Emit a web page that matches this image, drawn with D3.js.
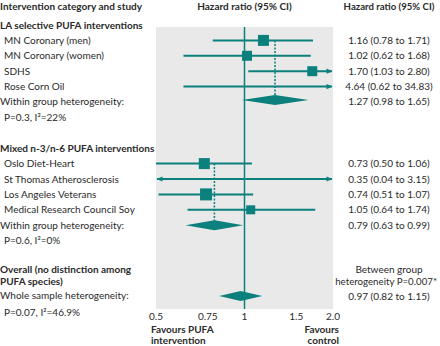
<!DOCTYPE html>
<html>
<head>
<meta charset="utf-8">
<script src="https://cdn.jsdelivr.net/npm/d3@7"></script>
<style>
  html, body { margin: 0; padding: 0; background: #fff; }
  svg text { font-family: Lato, "Open Sans", sans-serif; font-size: 10px; fill: #2a2a2a; }
  svg text.b { font-weight: bold; }
</style>
</head>
<body>
<svg id="chart" width="440" height="346"></svg>
<script>
// Study-level hazard ratios (95% CI), grouped by PUFA intervention type
const laStudies = ["MN Coronary (men)", "MN Coronary (women)", "SDHS", "Rose Corn Oil"];
const laHR = [1.16, 1.02, 1.70, 4.64];
const laLo = [0.78, 0.62, 1.03, 0.62];
const laHi = [1.71, 1.68, 2.80, 34.83];
const laWeight = [11, 10, 10, 0];

const mixStudies = ["Oslo Diet-Heart", "St Thomas Atherosclerosis", "Los Angeles Veterans", "Medical Research Council Soy"];
const mixHR = [0.73, 0.35, 0.74, 1.05];
const mixLo = [0.50, 0.04, 0.51, 0.64];
const mixHi = [1.06, 3.15, 1.07, 1.74];
const mixWeight = [11, 0, 12, 9];

// Pooled estimates: LA selective, mixed n-3/n-6, overall
const pooledLabels = ["LA selective", "Mixed", "Overall"];
const pooledHR = [1.27, 0.79, 0.97];
const pooledLo = [0.98, 0.63, 0.82];
const pooledHi = [1.65, 0.99, 1.15];

const hetText = ["P=0.3, I\u00b2=22%", "P=0.6, I\u00b2=0%", "P=0.07, I\u00b2=46.9%"];
const tickValues = [0.5, 0.75, 1, 1.5, 2.0];
const tickLabels = ["0.5", "0.75", "1", "1.5", "2.0"];

const teal = "#0b807c";
const svg = d3.select("#chart");

const x = d3.scaleLog().domain([0.5, 2]).range([156, 333]);
// row index -> vertical position
const y = d3.scaleLinear().domain([0, 1]).range([25, 40.4]);
const valueX = 389;

const fmt = d => d.toFixed(2);
const ciText = (h, l, u) => `${fmt(h)} (${fmt(l)} to ${fmt(u)})`;

function txt(px, py, s, opts = {}) {
  const t = svg.append("text")
    .attr("x", px).attr("y", py + 3.5)
    .attr("text-anchor", opts.anchor || "start")
    .attr("class", opts.bold ? "b" : null)
    .text(s);
  if (opts.size) t.style("font-size", opts.size + "px");
  return t;
}

// Plot panel background
svg.append("rect")
  .attr("x", x(0.5)).attr("y", 27)
  .attr("width", x(2) - x(0.5)).attr("height", 282)
  .attr("fill", "#e9e9e9");

// Line of no effect
svg.append("line")
  .attr("x1", x(1)).attr("x2", x(1))
  .attr("y1", 27).attr("y2", 309)
  .attr("stroke", teal).attr("stroke-width", 1.5);

// Column headers
txt(0, 6, "Intervention category and study", { bold: true });
txt(x(1), 6, "Hazard ratio (95% CI)", { bold: true, anchor: "middle" });
txt(valueX, 6, "Hazard ratio (95% CI)", { bold: true, anchor: "middle", size: 9.6 });

const [xmin, xmax] = x.domain();

function arrow(px, py, dir) {
  svg.append("path")
    .attr("d", `M${px},${py} L${px - dir * 6},${py - 2.6} L${px - dir * 6},${py + 2.6} Z`)
    .attr("fill", teal);
}

function drawStudies(names, hr, lo, hi, wt, startRow) {
  names.forEach((n, i) => {
    const py = y(startRow + i);
    txt(4, py, n);
    const l = Math.max(lo[i], xmin), u = Math.min(hi[i], xmax);
    const x1 = lo[i] < xmin ? x(xmin) + 1 : x(l);
    const x2 = hi[i] > xmax ? x(xmax) - 1 : x(u);
    svg.append("line")
      .attr("x1", x1).attr("x2", x2).attr("y1", py).attr("y2", py)
      .attr("stroke", teal).attr("stroke-width", 2);
    if (hi[i] > xmax) arrow(x(xmax) - 0.5, py, 1);
    if (lo[i] < xmin) arrow(x(xmin) + 0.5, py, -1);
    if (wt[i] > 0 && hr[i] >= xmin && hr[i] <= xmax) {
      svg.append("rect")
        .attr("x", x(hr[i]) - wt[i] / 2).attr("y", py - wt[i] / 2)
        .attr("width", wt[i]).attr("height", wt[i])
        .attr("fill", teal);
    }
    txt(valueX, py, ciText(hr[i], lo[i], hi[i]), { anchor: "middle" });
  });
}

function diamond(k, py) {
  svg.append("path")
    .attr("d", `M${x(pooledLo[k])},${py} L${x(pooledHR[k])},${py - 5} L${x(pooledHi[k])},${py} L${x(pooledHR[k])},${py + 5} Z`)
    .attr("fill", teal);
}

function dashed(k, y1, y2) {
  svg.append("line")
    .attr("x1", x(pooledHR[k])).attr("x2", x(pooledHR[k]))
    .attr("y1", y1).attr("y2", y2)
    .attr("stroke", teal).attr("stroke-width", 1.5)
    .attr("stroke-dasharray", "2,1.5");
}

// LA selective PUFA group
txt(0, y(0), "LA selective PUFA interventions", { bold: true });
dashed(0, y(1), y(5) - 1);
drawStudies(laStudies, laHR, laLo, laHi, laWeight, 1);
txt(0, y(5) - 1, "Within group heterogeneity:");
txt(4, y(6), hetText[0]);
diamond(0, y(5) - 2);
txt(valueX, y(5) - 1, ciText(pooledHR[0], pooledLo[0], pooledHi[0]), { anchor: "middle" });

// Mixed n-3/n-6 PUFA group
txt(0, y(8), "Mixed n-3/n-6 PUFA interventions", { bold: true });
dashed(1, y(9), y(13));
drawStudies(mixStudies, mixHR, mixLo, mixHi, mixWeight, 9);
txt(0, y(13), "Within group heterogeneity:");
txt(4, y(14), hetText[1]);
diamond(1, y(13));
txt(valueX, y(13), ciText(pooledHR[1], pooledLo[1], pooledHi[1]), { anchor: "middle" });

// Overall pooled estimate
txt(0, y(16) - 1.5, "Overall (no distinction among", { bold: true });
txt(0, y(16) + 10.5, "PUFA species)", { bold: true });
txt(0, y(17.55), "Whole sample heterogeneity:");
txt(4, y(18.65), hetText[2]);
diamond(2, y(17.6));
txt(valueX, y(16) - 1.5, "Between group", { anchor: "middle" });
txt(437, y(16) + 10.5, "heterogeneity P=0.007*", { anchor: "end", size: 9.7 });
txt(valueX, y(17.65), ciText(pooledHR[2], pooledLo[2], pooledHi[2]), { anchor: "middle" });

// Axis tick labels
tickValues.forEach((v, i) => txt(x(v), 316, tickLabels[i], { anchor: "middle" }));

// Direction labels
txt(151, 329.5, "Favours PUFA", { bold: true });
txt(151, 340, "intervention", { bold: true });
txt(339, 329.5, "Favours", { bold: true, anchor: "end" });
txt(339, 340, "control", { bold: true, anchor: "end" });
</script>
</body>
</html>
